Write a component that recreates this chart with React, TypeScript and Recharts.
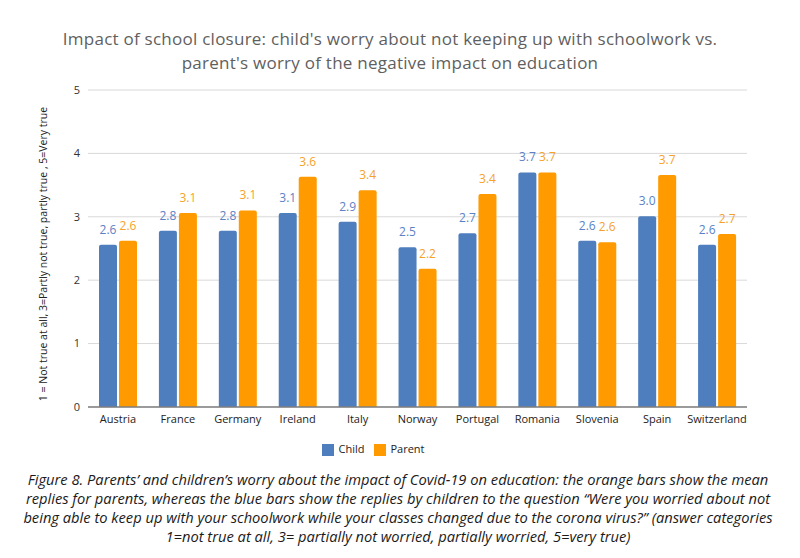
import React from "react";
import {
  BarChart,
  Bar,
  XAxis,
  YAxis,
  CartesianGrid,
  Legend,
  LabelList,
} from "recharts";

const countries = [
  "Austria",
  "France",
  "Germany",
  "Ireland",
  "Italy",
  "Norway",
  "Portugal",
  "Romania",
  "Slovenia",
  "Spain",
  "Switzerland",
];
const childValues = [2.56, 2.78, 2.78, 3.06, 2.92, 2.52, 2.74, 3.7, 2.62, 3.01, 2.56];
const parentValues = [2.62, 3.06, 3.1, 3.63, 3.42, 2.18, 3.36, 3.7, 2.6, 3.66, 2.73];
const yTicks = [0, 1, 2, 3, 4, 5];

const titleLines = [
  "Impact of school closure: child's worry about not keeping up with schoolwork vs.",
  "parent's worry of the negative impact on education",
];
const yLabel = "1 = Not true at all, 3=Partly not true, partly true , 5=Very true";
const captionLines = [
  "Figure 8. Parents’ and children’s worry about the impact of Covid-19 on education: the orange bars show the mean",
  "replies for parents, whereas the blue bars show the replies by children to the question “Were you worried about not",
  "being able to keep up with your schoolwork while your classes changed due to the corona virus?” (answer categories",
  "1=not true at all, 3= partially not worried, partially worried, 5=very true)",
];

const BLUE = "#4E7EBE";
const ORANGE = "#FF9A00";

const data = countries.map((c, i) => ({
  country: c,
  Child: childValues[i],
  Parent: parentValues[i],
}));

const FONT = "'Open Sans', 'DejaVu Sans', sans-serif";

export default function App() {
  return (
    <div
      style={{
        position: "absolute",
        left: 0,
        top: 0,
        width: 800,
        height: 558,
        background: "#fff",
        fontFamily: FONT,
        overflow: "hidden",
      }}
    >
      <div
        style={{
          position: "absolute",
          top: 27,
          left: 0,
          width: 780,
          textAlign: "center",
          color: "#5f5f5f",
          fontSize: 17,
          letterSpacing: 0.25,
          lineHeight: "23.5px",
        }}
      >
        {titleLines.map((t) => (
          <div key={t} style={{ whiteSpace: "nowrap" }}>
            {t}
          </div>
        ))}
      </div>
      <div style={{ position: "absolute", top: 0, left: 0 }}>
        <BarChart
          width={800}
          height={456}
          data={data}
          margin={{ top: 90, right: 53, left: 30, bottom: 0 }}
          barSize={18}
          barGap={2}
        >
          <CartesianGrid vertical={false} stroke="#d9d9d9" />
          <XAxis
            dataKey="country"
            tickLine={false}
            axisLine={{ stroke: "#7f7f7f", strokeWidth: 1.5 }}
            tick={{ fontSize: 11, fill: "#222", fontFamily: FONT }}
            height={26}
            interval={0}
          />
          <YAxis
            domain={[0, 5]}
            ticks={yTicks}
            width={58}
            axisLine={false}
            tickLine={false}
            tick={{ fontSize: 11, fill: "#333", fontFamily: FONT }}
          />
          <Legend
            verticalAlign="bottom"
            iconType="square"
            iconSize={12}
            wrapperStyle={{ fontSize: 11, color: "#222", paddingTop: 8, marginLeft: -10 }}
            formatter={(v: string) => <span style={{ color: "#222" }}>{v}</span>}
          />
          <Bar dataKey="Child" fill={BLUE} radius={[2, 2, 0, 0]} isAnimationActive={false}>
            <LabelList
              dataKey="Child"
              position="top"
              offset={11}
              fill="#5B82C5"
              fontSize={12}
              formatter={(v: number) => v.toFixed(1)}
            />
          </Bar>
          <Bar dataKey="Parent" fill={ORANGE} radius={[2, 2, 0, 0]} isAnimationActive={false}>
            <LabelList
              dataKey="Parent"
              position="top"
              offset={11}
              fill="#F5A22A"
              fontSize={12}
              formatter={(v: number) => v.toFixed(1)}
            />
          </Bar>
        </BarChart>
      </div>
      <svg
        style={{ position: "absolute", left: 0, top: 0 }}
        width={80}
        height={470}
      >
        <text
          x={44}
          y={254}
          transform="rotate(-90 44 254)"
          textAnchor="middle"
          dominantBaseline="middle"
          fontSize={10.5}
          fill="#222"
          fontFamily={FONT}
        >
          {yLabel}
        </text>
      </svg>
      <div
        style={{
          position: "absolute",
          top: 470,
          left: 0,
          width: 796,
          textAlign: "center",
          fontStyle: "italic",
          fontSize: 14.7,
          lineHeight: "19px",
          color: "#1a1a1a",
          fontFamily: "'Liberation Sans Narrow', 'Open Sans', sans-serif",
        }}
      >
        {captionLines.map((t) => (
          <div key={t} style={{ whiteSpace: "nowrap" }}>
            {t}
          </div>
        ))}
      </div>
    </div>
  );
}
